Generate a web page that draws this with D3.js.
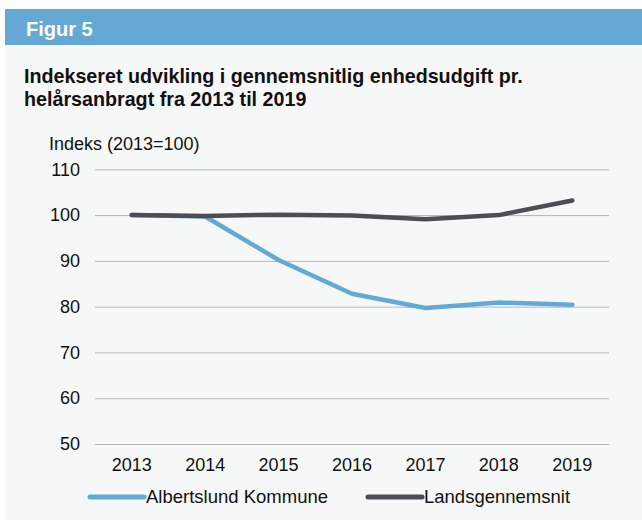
<html>
<head>
<meta charset="utf-8">
<title>Figur 5</title>
<script src="https://cdn.jsdelivr.net/npm/d3@7"></script>
<style>
  body { margin: 0; background: #fff; font-family: "Liberation Sans", Arial, sans-serif; }
</style>
</head>
<body>
<script>
// data
var years = ["2013", "2014", "2015", "2016", "2017", "2018", "2019"];
var albertslund = [100, 99.7, 90.2, 82.8, 79.7, 80.9, 80.4];
var lands = [100, 99.8, 100.1, 99.9, 99.1, 100.0, 103.2];
var yTicks = [50, 60, 70, 80, 90, 100, 110];
var seriesNames = ["Albertslund Kommune", "Landsgennemsnit"];
var seriesColors = ["#62aad6", "#4c4e54"];

var W = 642, H = 527;
var svg = d3.select("body").append("svg").attr("width", W).attr("height", H);

// panel + header band
svg.append("rect").attr("x", 5).attr("y", 45).attr("width", W - 5).attr("height", 475).attr("fill", "#f6f8f8");
svg.append("rect").attr("x", 5).attr("y", 9).attr("width", W - 5).attr("height", 36).attr("fill", "#63a9d4");
svg.append("text").attr("x", 26).attr("y", 36).attr("fill", "#fff")
   .style("font-weight", "bold").style("font-size", "20px").text("Figur 5");

var title = svg.append("text")
   .style("font-weight", "bold").style("font-size", "19.7px").attr("fill", "#111");
title.append("tspan").attr("x", 24).attr("y", 83).text("Indekseret udvikling i gennemsnitlig enhedsudgift pr.");
title.append("tspan").attr("x", 24).attr("y", 106).text("helårsanbragt fra 2013 til 2019");

svg.append("text").attr("x", 49).attr("y", 150).style("font-size", "18px").attr("fill", "#111")
   .text("Indeks (2013=100)");

// scales
var plotLeft = 95, plotRight = 609, plotTop = 169.3, plotBottom = 444;
var x = d3.scaleBand().domain(years).range([plotLeft, plotRight]);
var y = d3.scaleLinear().domain([50, 110]).range([plotBottom, plotTop]);

// grid lines
var yAxis = d3.axisLeft(y).tickValues(yTicks).tickSize(-(plotRight - plotLeft)).tickPadding(15);
var gy = svg.append("g").attr("transform", "translate(" + plotLeft + ",0)").call(yAxis);
gy.select(".domain").remove();
gy.selectAll(".tick line").attr("stroke", "#b5b5b5").attr("stroke-width", 1);
gy.selectAll(".tick text").attr("fill", "#111").style("font-size", "18px")
  .style("font-family", "Liberation Sans, Arial, sans-serif");

var xAxis = d3.axisBottom(x).tickSize(0).tickPadding(14);
var gx = svg.append("g").attr("transform", "translate(0," + plotBottom + ")").call(xAxis);
gx.select(".domain").remove();
gx.selectAll(".tick text").attr("fill", "#111").style("font-size", "18px")
  .style("font-family", "Liberation Sans, Arial, sans-serif");

// lines
var line = d3.line()
  .x(function(d, i) { return x(years[i]) + x.bandwidth() / 2; })
  .y(function(d) { return y(d); });

[albertslund, lands].forEach(function(s, i) {
  svg.append("path").datum(s).attr("d", line)
    .attr("fill", "none").attr("stroke", seriesColors[i]).attr("stroke-width", 4.5)
    .attr("stroke-linecap", "round").attr("stroke-linejoin", "round");
});

// legend
var legendX = [88, 366];
seriesNames.forEach(function(name, i) {
  var g = svg.append("g").attr("transform", "translate(" + legendX[i] + ",497)");
  g.append("line").attr("x1", 2).attr("x2", 56).attr("y1", 0).attr("y2", 0)
    .attr("stroke", seriesColors[i]).attr("stroke-width", 5).attr("stroke-linecap", "round");
  g.append("text").attr("x", 58).attr("y", 6).style("font-size", "18.5px").attr("fill", "#111").text(name);
});
</script>
</body>
</html>
